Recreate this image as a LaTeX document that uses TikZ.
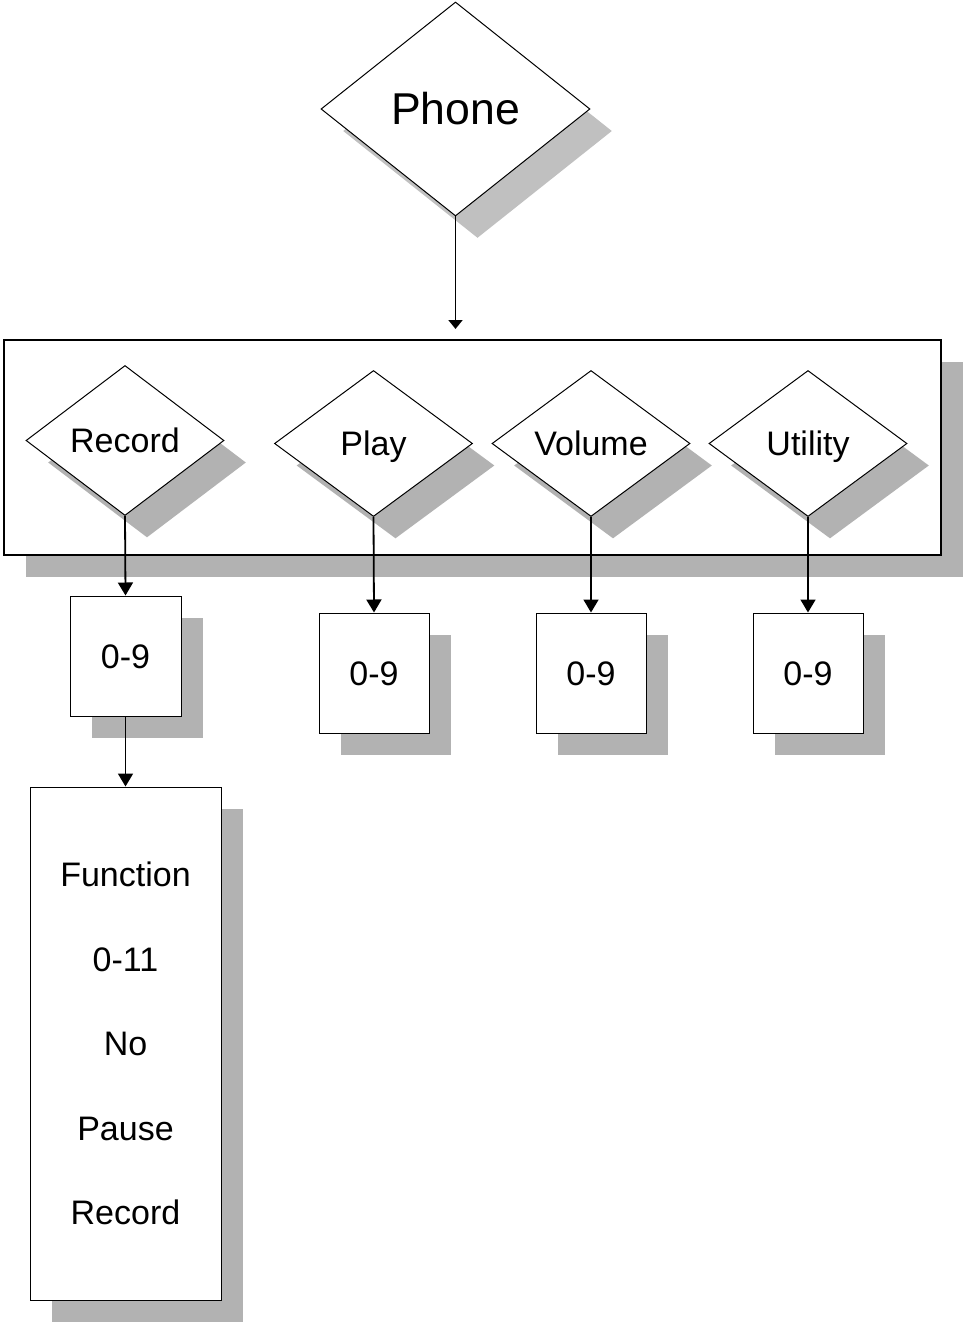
\documentclass[tikz,border=0pt]{standalone}
\usepackage{fontspec}
\setmainfont{Liberation Sans}
\usetikzlibrary{shapes.geometric,shadows,arrows.meta}
\definecolor{shade}{RGB}{178,178,178}
\definecolor{shadelight}{RGB}{192,192,192}
\tikzset{
  shad/.style={drop shadow={shadow xshift=22pt,shadow yshift=-22pt,fill=shade,opacity=1}},
  shadlight/.style={drop shadow={shadow xshift=22pt,shadow yshift=-22pt,fill=shadelight,opacity=1}},
  txt/.style={font=\fontsize{34pt}{40pt}\selectfont, text height=24pt, text depth=0pt},
  dia/.style={diamond, draw, fill=white, line width=1pt, inner sep=0pt,
    minimum width=198pt, minimum height=146pt, shad, txt},
  numbox/.style={rectangle, draw, fill=white, line width=1pt, inner sep=0pt,
    minimum width=110pt, minimum height=120pt, shad, txt},
  conn/.style={line width=1.8pt, -{Triangle[width=15pt,length=13pt]}},
}
\begin{document}
\begin{tikzpicture}[x=1pt,y=-1pt]
\useasboundingbox (0,0) rectangle (962,1324);
% top diamond
\node[diamond, draw, fill=white, line width=1pt, inner sep=0pt,
  minimum width=269pt, minimum height=214pt, shadlight,
  font=\fontsize{44.6pt}{50pt}\selectfont, text height=32pt, text depth=0pt]
  (phone) at (455.5,109) {Phone};
\coordinate (pin) at (455.5,329);
% container
\node[rectangle, draw, fill=white, line width=2pt, inner sep=0pt,
  minimum width=937pt, minimum height=215pt, shad] (group) at (472.5,447.5) {};
% option diamonds
\node[dia, minimum height=150pt] (rec) at (125,440.5) {Record};
\node[dia] (play) at (373.5,443.5) {Play};
\node[dia] (vol) at (591,443.5) {Volume};
\node[dia] (util) at (808,443.5) {Utility};
% number boxes
\node[numbox, minimum width=111pt] (b1) at (125.5,656) {0-9};
\node[numbox] (b2) at (374,673) {0-9};
\node[numbox] (b3) at (591,673) {0-9};
\node[numbox] (b4) at (808,673) {0-9};
% function box
\node[rectangle, draw, fill=white, line width=1pt, inner sep=0pt,
  minimum width=191pt, minimum height=513pt, shad, align=center,
  font=\fontsize{34pt}{84.5pt}\selectfont] (func) at (125.5,1043.5)
  {Function\\0-11\\No\\Pause\\Record};
% connectors
\draw[line width=1.8pt, -{Triangle[width=14pt,length=9pt]}] (phone.south) -- (pin);
\draw[conn] (rec.south) -- (b1.north);
\draw[conn] (b1.south) -- (func.north);
\draw[conn] (play.south) -- (b2.north);
\draw[conn] (vol.south) -- (b3.north);
\draw[conn] (util.south) -- (b4.north);
\end{tikzpicture}
\end{document}
